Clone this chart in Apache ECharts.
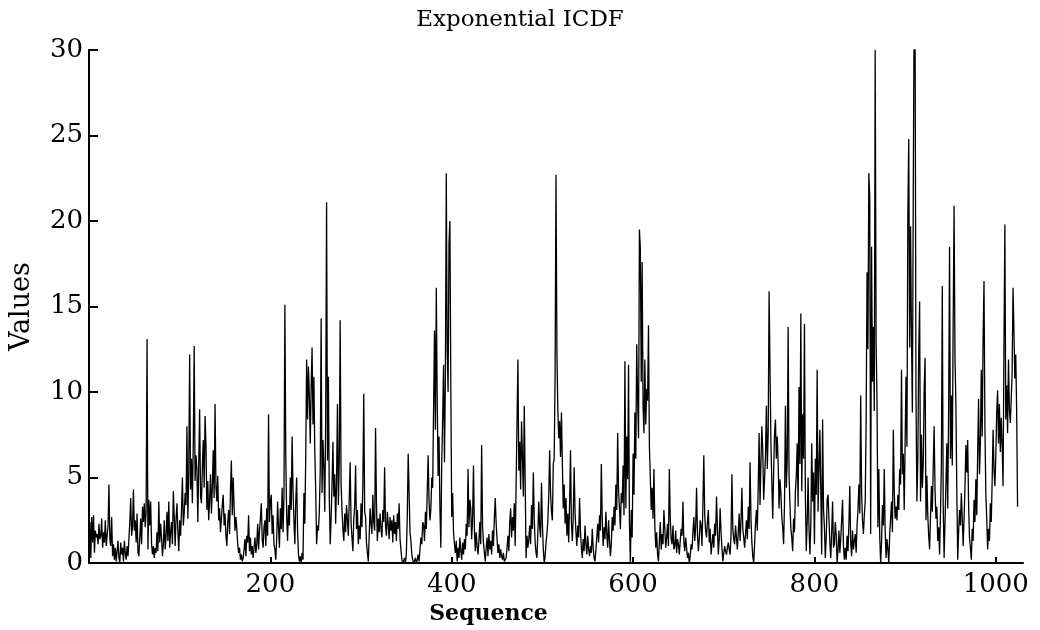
<!DOCTYPE html>
<html>
<head>
<meta charset="utf-8">
<title>Exponential ICDF</title>
<style>
    html, body { margin: 0; padding: 0; background: #fff; }
    #icdf_line { width: 1040px; height: 630px; }
</style>
</head>
<body>
<div id="icdf_line"></div>

<script src="https://cdn.jsdelivr.net/npm/echarts@6/dist/echarts.min.js"></script>
<script type="text/javascript">

    // sequence values, 128 samples per block (x = 1..1024)
    var seqA = [
        2.4, 0.3, 2.7, 1.2, 2.8, 0.6, 1.9, 1.5, 1.7, 1.1,
        2.3, 1.4, 1.6, 2.6, 0.9, 1.8, 1.2, 2.5, 1.0, 1.6,
        2.2, 4.6, 1.4, 1.0, 2.7, 0.4, 1.1, 0.2, 0.9, 0.1,
        0.7, 1.3, 0.3, 0.0, 1.2, 0.5, 0.9, 0.1, 1.3, 0.6,
        0.2, 1.0, 0.4, 0.3, 2.4, 3.8, 1.6, 2.1, 4.3, 1.9,
        2.5, 1.2, 2.9, 0.6, 0.4, 1.5, 2.6, 1.1, 3.3, 2.4,
        3.5, 2.1, 3.0, 13.1, 0.8, 3.7, 2.2, 3.6, 1.1, 0.5,
        1.0, 0.3, 0.9, 0.6, 1.8, 0.7, 3.6, 1.2, 2.3, 1.5,
        0.4, 1.1, 2.5, 0.8, 1.6, 3.0, 1.3, 3.6, 0.9, 1.8,
        2.4, 1.1, 4.2, 2.7, 1.0, 2.6, 3.5, 1.9, 0.7, 2.5,
        1.6, 3.1, 5.0, 2.2, 2.9, 4.1, 3.4, 8.0, 2.6, 5.2,
        12.2, 4.3, 6.1, 3.5, 7.0, 12.7, 4.8, 6.3, 5.5, 2.4,
        5.8, 9.0, 3.9, 3.5, 5.6, 7.2, 4.4, 8.6
    ];
    var seqB = [
        6.9, 3.1, 4.8, 2.5, 3.7, 5.2, 2.9, 4.4, 6.6, 3.8,
        9.3, 4.5, 3.6, 5.1, 2.5, 3.2, 1.8, 2.6, 3.4, 4.0,
        2.2, 2.9, 1.6, 1.0, 2.4, 3.1, 1.7, 4.2, 6.0, 2.8,
        5.0, 3.3, 1.9, 2.7, 2.0, 1.1, 0.6, 0.9, 0.2, 0.5,
        0.1, 0.3, 0.8, 1.4, 0.4, 1.6, 1.2, 2.8, 0.7, 1.5,
        0.5, 1.0, 0.3, 0.9, 1.5, 0.6, 1.1, 2.3, 0.8, 1.9,
        2.6, 3.5, 1.4, 0.9, 2.1, 2.5, 1.0, 3.2, 1.6, 8.7,
        2.4, 3.6, 4.0, 1.7, 2.8, 1.1, 0.8, 0.2, 1.5, 3.6,
        2.1, 0.9, 3.2, 2.0, 4.4, 1.8, 3.9, 15.1, 6.3, 2.7,
        1.3, 3.4, 2.2, 5.0, 3.1, 7.4, 4.2, 2.5, 1.1, 3.6,
        5.0, 1.9, 0.5, 0.1, 0.4, 0.0, 0.6, 0.2, 4.1, 2.3,
        6.2, 11.9, 8.4, 11.5, 9.8, 7.0, 10.3, 12.6, 8.1, 10.9,
        6.5, 4.3, 1.1, 2.2, 1.9, 3.0, 5.4, 14.3
    ];
    var seqC = [
        4.1, 7.2, 5.7, 3.0, 8.4, 21.1, 6.0, 10.9, 3.8, 1.1,
        2.6, 4.5, 7.1, 3.9, 5.2, 2.3, 4.8, 9.3, 3.4, 6.0,
        14.2, 4.6, 3.1, 2.0, 1.3, 2.9, 1.8, 3.4, 2.5, 1.6,
        3.8, 5.9, 2.4, 1.5, 0.7, 2.6, 3.3, 5.7, 2.0, 3.1,
        1.1, 2.2, 1.4, 3.5, 2.1, 4.6, 9.9, 3.0, 2.7, 1.2,
        0.6, 0.1, 1.6, 3.2, 2.3, 1.7, 4.0, 2.4, 1.9, 7.9,
        3.5, 1.3, 2.6, 1.8, 2.9, 2.0, 1.5, 3.1, 2.4, 5.6,
        2.2, 1.6, 3.0, 2.3, 1.4, 2.7, 1.9, 2.5, 1.2, 2.8,
        1.7, 2.4, 1.3, 2.9, 2.0, 3.5, 1.4, 0.8, 0.2, 0.0,
        0.1, 0.3, 0.0, 0.6, 2.8, 6.4, 4.1, 1.8, 1.3, 0.5,
        0.2, 0.0, 0.1, 0.3, 0.0, 0.2, 0.5, 0.1, 0.8, 1.5,
        1.1, 2.4, 2.2, 1.3, 3.0, 2.0, 4.2, 6.3, 3.6, 2.5,
        3.2, 5.0, 4.4, 9.0, 13.6, 7.8, 16.1, 9.5
    ];
    var seqD = [
        5.1, 7.4, 3.2, 0.9, 6.0, 8.4, 11.6, 5.9, 10.8, 22.8,
        12.5, 10.0, 18.7, 20.0, 10.4, 2.7, 4.1, 1.8, 1.1, 0.6,
        1.3, 0.1, 0.9, 0.3, 1.5, 0.7, 0.2, 1.2, 0.5, 1.4,
        0.8, 2.3, 1.6, 5.5, 2.1, 3.7, 3.2, 1.4, 2.6, 5.7,
        2.0, 0.7, 1.8, 1.0, 0.5, 1.3, 2.4, 1.1, 6.9, 2.2,
        1.2, 0.6, 0.1, 0.9, 1.5, 0.4, 1.7, 0.8, 1.3, 0.5,
        1.9, 1.0, 2.6, 3.8, 2.3, 1.4, 0.6, 1.1, 0.3, 0.8,
        0.4, 0.2, 0.6, 0.1, 0.0, 0.3, 0.9, 1.6, 0.7, 2.4,
        3.2, 1.5, 2.7, 1.9, 3.5, 1.0, 4.6, 8.2, 11.9, 5.4,
        7.1, 4.3, 8.3, 6.2, 3.9, 9.2, 4.8, 0.3, 1.6, 0.9,
        1.4, 2.2, 1.1, 3.4, 2.0, 5.3, 2.6, 1.2, 0.6, 0.3,
        1.8, 3.6, 2.1, 1.5, 4.7, 2.3, 0.8, 0.0, 0.4, 1.2,
        1.7, 2.5, 3.9, 6.6, 4.1, 3.0, 2.5, 5.8
    ];
    var seqE = [
        6.1, 10.9, 22.7, 12.4, 9.0, 7.3, 8.3, 6.2, 8.8, 5.9,
        3.2, 4.6, 2.3, 3.8, 1.6, 2.9, 1.2, 3.5, 6.6, 2.4,
        1.3, 2.7, 5.6, 3.0, 1.8, 1.0, 2.2, 1.5, 3.8, 1.9,
        0.9, 0.3, 1.4, 0.7, 2.2, 1.1, 0.5, 1.6, 0.8, 0.4,
        1.0, 0.6, 2.0, 0.9, 0.3, 0.1, 0.8, 1.5, 2.3, 1.2,
        2.8, 1.9, 5.8, 2.6, 1.0, 2.1, 1.4, 3.0, 1.7, 0.9,
        2.5, 1.3, 0.4, 1.1, 2.7, 1.9, 3.3, 2.2, 4.6, 3.1,
        7.6, 4.2, 3.2, 2.0, 4.1, 3.5, 5.7, 2.8, 11.8, 3.2,
        7.4, 4.9, 11.6, 2.3, 0.0, 3.1, 1.5, 6.4, 4.0, 8.8,
        6.1, 12.8, 9.6, 7.3, 19.5, 18.4, 10.6, 17.6, 9.2, 7.6,
        11.9, 8.1, 10.2, 9.5, 13.9, 6.8, 5.0, 3.1, 4.4, 2.6,
        5.5, 2.2, 0.9, 1.8, 0.5, 0.1, 1.3, 2.4, 0.8, 1.7,
        1.1, 3.1, 2.0, 0.9, 1.5, 2.3, 1.0, 5.5
    ];
    var seqF = [
        2.6, 1.4, 1.1, 2.2, 0.8, 1.0, 1.9, 0.6, 1.4, 1.1,
        0.5, 1.3, 2.0, 1.6, 3.6, 1.2, 0.7, 1.5, 0.9, 0.3,
        0.6, 0.0, 0.4, 1.1, 0.8, 1.8, 2.7, 1.3, 2.1, 4.4,
        1.7, 0.7, 1.4, 2.5, 2.2, 1.0, 3.4, 6.3, 2.8, 1.9,
        1.5, 2.4, 3.1, 1.2, 2.0, 0.5, 1.1, 1.7, 0.9, 2.3,
        1.6, 3.9, 2.1, 0.5, 1.4, 3.2, 1.8, 0.9, 0.1, 0.6,
        1.0, 0.7, 0.5, 0.9, 1.2, 0.8, 0.5, 1.6, 5.2, 2.0,
        1.4, 1.1, 2.2, 1.5, 0.8, 1.8, 2.9, 1.3, 2.4, 4.4,
        2.0, 1.5, 0.9, 1.7, 2.5, 1.4, 3.3, 2.0, 5.9, 2.6,
        1.2, 0.4, 0.0, 1.1, 2.3, 3.1, 1.9, 4.5, 7.6, 3.4,
        5.9, 8.0, 6.6, 3.7, 4.9, 6.3, 9.2, 5.5, 7.6, 15.9,
        11.4, 7.0, 4.8, 2.6, 5.3, 7.6, 8.4, 6.1, 7.4, 5.9,
        3.2, 4.9, 4.1, 2.7, 2.1, 1.1, 3.5, 9.2
    ];
    var seqG = [
        4.4, 6.0, 13.8, 5.2, 3.4, 2.0, 1.5, 0.7, 2.6, 1.8,
        4.2, 5.1, 7.0, 3.3, 10.3, 5.8, 14.6, 4.2, 8.7, 6.1,
        14.0, 3.9, 0.7, 2.4, 5.0, 2.1, 0.5, 2.2, 7.0, 3.6,
        5.3, 1.1, 6.1, 4.0, 11.3, 3.0, 5.5, 7.8, 4.3, 0.5,
        8.4, 3.2, 2.1, 0.3, 1.5, 3.7, 4.0, 2.6, 1.2, 0.3,
        1.8, 3.6, 0.9, 1.1, 2.4, 1.7, 0.0, 0.8, 1.9, 0.6,
        1.4, 2.5, 3.7, 1.0, 0.2, 0.9, 0.2, 1.6, 0.7, 2.3,
        4.5, 1.2, 0.4, 1.9, 0.8, 1.3, 1.7, 0.6, 2.2, 3.1,
        4.6, 2.9, 9.8, 4.1, 2.5, 1.7, 2.8, 3.6, 8.2, 17.0,
        12.5, 22.8, 21.4, 1.7, 18.5, 10.6, 13.8, 8.9, 30.0, 13.0,
        9.4, 2.1, 5.5, 1.6, 0.0, 1.2, 3.4, 2.2, 5.5, 1.9,
        0.3, 1.4, 0.8, 0.0, 1.7, 2.6, 3.6, 1.8, 7.8, 4.2,
        2.6, 3.3, 2.5, 4.0, 3.1, 5.5, 4.6, 11.3
    ];
    var seqH = [
        5.2, 6.4, 3.1, 7.0, 10.9, 6.8, 20.3, 24.8, 12.6, 19.7,
        13.3, 8.8, 21.8, 33.0, 31.0, 9.7, 3.6, 6.0, 12.4, 15.3,
        3.6, 7.5, 4.4, 5.8, 10.2, 12.0, 2.5, 5.1, 2.8, 1.6,
        0.8, 2.7, 4.5, 3.0, 5.6, 8.0, 4.2, 2.6, 3.3, 1.3,
        2.1, 0.5, 2.9, 5.8, 16.2, 3.4, 0.3, 2.4, 4.6, 7.0,
        3.2, 9.1, 18.5, 6.1, 9.8, 5.7, 14.2, 20.9, 12.0, 9.3,
        4.2, 0.2, 1.8, 3.1, 2.2, 4.1, 2.6, 1.0, 2.6, 4.4,
        6.9, 5.3, 7.2, 3.4, 1.5, 0.9, 0.2, 2.0, 1.3, 3.7,
        2.4, 4.9, 2.8, 6.5, 9.6, 5.2, 7.0, 11.3, 7.4, 13.2,
        16.5, 8.0, 4.1, 2.6, 0.8, 2.0, 1.3, 3.5, 2.4, 4.8,
        7.8, 5.5, 4.5, 6.2, 8.8, 10.1, 7.0, 9.3, 6.5, 8.5,
        6.9, 4.5, 12.6, 19.8, 8.4, 10.4, 7.6, 11.9, 9.0, 8.2,
        9.6, 11.1, 16.1, 13.6, 10.8, 12.2, 8.9, 3.3
    ];

    var xTicks = [200, 400, 600, 800, 1000];
    var yTicks = [0, 5, 10, 15, 20, 25, 30];

    $ready();

    function $ready() {
        var values = [].concat(seqA, seqB, seqC, seqD, seqE, seqF, seqG, seqH);
        var points = [];
        for (var i = 0; i < values.length; i++) {
            points.push([i + 1, values[i]]);
        }
        creatIcdfLine(points);
    }

    function creatIcdfLine(points) {
        var box = document.getElementById("icdf_line");
        var chart = echarts.init(box, null, {renderer: 'canvas'});
        var font = '"DejaVu Serif", "Liberation Serif", serif';
        chart.setOption({
            animation: false,
            backgroundColor: '#ffffff',
            title: {
                text: 'Exponential ICDF',
                left: 'center',
                top: 4,
                textStyle: {fontFamily: font, fontSize: 23, fontWeight: 'normal', color: '#000'}
            },
            grid: {left: 88, right: 17, top: 50, bottom: 61},
            xAxis: {
                type: 'value',
                min: 0,
                max: 1030,
                interval: 200,
                name: 'Sequence',
                nameLocation: 'middle',
                nameGap: 27,
                nameTextStyle: {fontFamily: font, fontSize: 22, fontWeight: 'bold', color: '#000',
                    padding: [0, 135, 0, 0]},
                splitLine: {show: false},
                axisLine: {lineStyle: {color: '#000', width: 2}},
                axisTick: {inside: true, length: 6, lineStyle: {color: '#000', width: 2},
                    customValues: xTicks},
                axisLabel: {
                    fontFamily: font, fontSize: 26, color: '#000', margin: 9,
                    customValues: xTicks,
                    formatter: function (v) { return String(v); }
                }
            },
            yAxis: {
                type: 'value',
                min: 0,
                max: 30,
                interval: 5,
                name: 'Values',
                nameLocation: 'middle',
                nameGap: 54,
                nameTextStyle: {fontFamily: font, fontSize: 27, color: '#000'},
                splitLine: {show: false},
                axisLine: {lineStyle: {color: '#000', width: 2}},
                axisTick: {inside: true, length: 9, lineStyle: {color: '#000', width: 2},
                    customValues: yTicks},
                axisLabel: {
                    fontFamily: font, fontSize: 26, color: '#000', margin: 6,
                    customValues: yTicks
                }
            },
            series: [
                {
                    type: 'line',
                    data: points,
                    showSymbol: false,
                    sampling: null,
                    clip: true,
                    lineStyle: {color: '#000', width: 1.3}
                }
            ]
        });
    }

</script>
</body>
</html>
